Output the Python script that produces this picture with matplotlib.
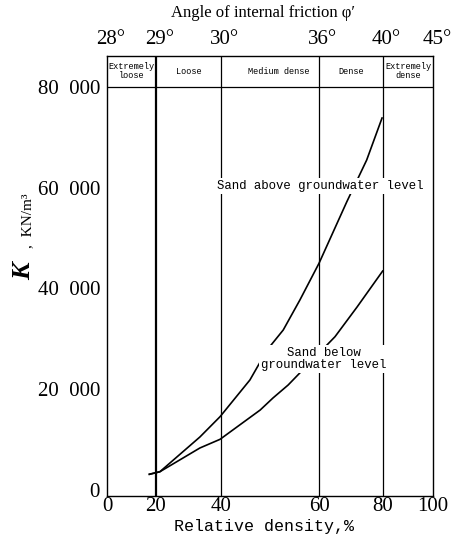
import numpy as np
import matplotlib
matplotlib.use('Agg')
from matplotlib import pyplot as plt
from matplotlib import transforms

# 相对密实度刻度（横轴不等距）
density_ticks = [0, 20, 40, 60, 80, 100]
density_frac = [0, 49, 114, 212, 276, 326]  # 横轴上各刻度的相对位置
angle_labels = ['28°', '29°', '30°', '36°', '40°', '45°']
k_ticks = [0, 20000, 40000, 60000, 80000]
k_labels = ['0', '20  000', '40  000', '60  000', '80  000']

# 密实程度分区
zone_names = ['Extremely\nloose', 'Loose', 'Medium dense', 'Dense', 'Extremely\ndense']
zone_centers = [10, 30, 51.8, 70, 90]

# 地下水位以上
above_x = [17.3, 21.2, 33.5, 39.7, 45.9, 49.4, 52.7, 56.1, 60.0, 68.7, 74.9, 79.7]
above_k = [3120, 3630, 10520, 14550, 21840, 27790, 31760, 37715, 45000, 57230, 65500, 73840]
# 地下水位以下
below_x = [17.3, 21.2, 33.5, 39.7, 48.0, 50.6, 53.7, 65.0, 71.9, 79.9]
below_k = [3120, 3630, 8340, 10060, 15880, 18260, 20840, 30430, 36330, 43470]


def fwd(x):
    return np.interp(x, density_ticks, density_frac)


def inv(p):
    return np.interp(p, density_frac, density_ticks)


serif = 'Liberation Serif'
mono = 'Liberation Mono'

fig = plt.figure(figsize=(4.59, 5.5), dpi=100)
ax = fig.add_axes([107 / 459, 54 / 550, 326 / 459, 440 / 550])
ax.set_xscale('function', functions=(fwd, inv))
ax.set_xlim(0, 100)
ax.set_ylim(-1190, 86150)

# 分区竖线及表头横线
for x in density_ticks[1:-1]:
    ax.axvline(x, color='black', lw=1.6 if x == 20 else 0.9, zorder=1)
ax.axhline(80000, color='black', lw=0.9, zorder=1)

ax.plot(above_x, above_k, color='black', lw=1.2, zorder=2)
ax.plot(below_x, below_k, color='black', lw=1.2, zorder=2)

for name, cx in zip(zone_names, zone_centers):
    ax.text(cx, 83100, name, ha='center', va='center', fontsize=6.2,
            family=mono, linespacing=1.0)

ax.text(60.4, 60300, 'Sand above groundwater level', ha='center', va='center',
        fontsize=8.9, family=mono, zorder=5,
        bbox=dict(facecolor='white', edgecolor='none', pad=1.5))
ax.text(61.5, 26000, 'Sand below\ngroundwater level', ha='center', va='center',
        fontsize=8.9, family=mono, zorder=5, linespacing=1.05,
        bbox=dict(facecolor='white', edgecolor='none', pad=1.5))

ax.set_xticks(density_ticks)
ax.set_xticklabels([str(t) for t in density_ticks], family=serif, fontsize=15)
ax.set_yticks(k_ticks)
ax.set_yticklabels(k_labels, family=serif, fontsize=15)
ax.tick_params(axis='x', length=0, pad=1)
ax.tick_params(axis='y', length=0, pad=5)
for s in ax.spines.values():
    s.set_linewidth(1.0)

# 顶部内摩擦角标注
trans = transforms.blended_transform_factory(ax.transData, ax.transAxes)
for i, (x, lab) in enumerate(zip(density_ticks, angle_labels)):
    if i == len(density_ticks) - 1:
        t = transforms.offset_copy(trans, fig=fig, x=19, y=0, units='dots')
        ax.text(x, 1.016, lab, ha='right', va='bottom', fontsize=15, family=serif, transform=t)
    else:
        t = transforms.offset_copy(trans, fig=fig, x=-11, y=0, units='dots')
        ax.text(x, 1.016, lab, ha='left', va='bottom', fontsize=15, family=serif, transform=t)

fig.text(263 / 459, 1 - 13 / 550, 'Angle of internal friction φ′', ha='center', va='center',
         fontsize=12, family=serif)
fig.text(264 / 459, 1 - 527 / 550, 'Relative density,%', ha='center', va='center',
         fontsize=12, family=mono)

fig.text(24 / 459, 1 - 271 / 550, 'K', rotation=90, ha='center', va='center',
         fontsize=19, family=serif, style='italic', weight='bold')
fig.text(28 / 459, 1 - 221 / 550, ',  KN/m³', rotation=90, ha='center', va='center',
         fontsize=11, family=serif)

plt.savefig('out.png', dpi=100)
